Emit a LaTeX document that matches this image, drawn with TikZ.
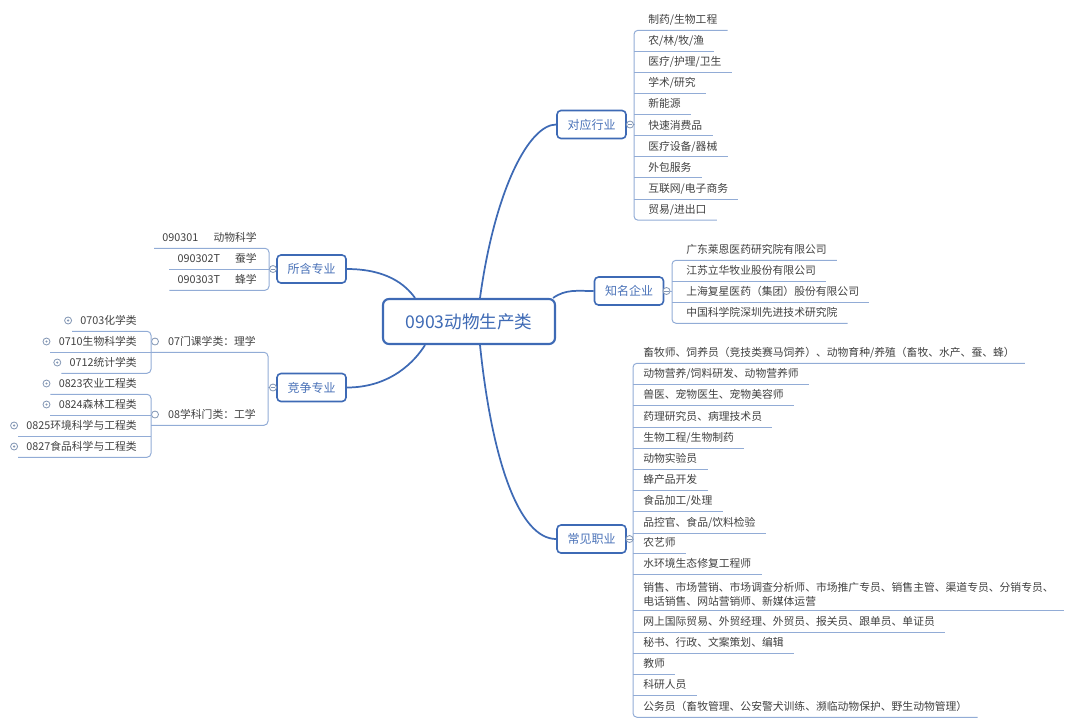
\documentclass[tikz,border=0pt]{standalone}
\usepackage{fontspec}
\setmainfont{Noto Sans CJK SC}
\usepackage{tikz}
\usetikzlibrary{calc}
\definecolor{trunkblue}{RGB}{62,106,181}
\definecolor{boxtext}{RGB}{74,114,184}
\definecolor{leafline}{RGB}{146,172,214}
\definecolor{leaftext}{RGB}{64,64,64}
\definecolor{knobgray}{RGB}{130,150,180}

\begin{document}
\begin{tikzpicture}[x=0.75pt,y=-0.75pt,
          root/.style={draw=trunkblue,line width=1.6pt,rounded corners=4.5pt,%
            fill=white,text=trunkblue,font=\fontsize{13.2pt}{15pt}\selectfont,%
            minimum width=129pt,minimum height=33.75pt,inner sep=0pt},
          branch/.style={draw=trunkblue,line width=1.2pt,rounded corners=3pt,%
            fill=white,text=boxtext,font=\fontsize{9pt}{11pt}\selectfont,%
            minimum width=51.75pt,minimum height=21pt,inner sep=0pt},
          leaf/.style={text=leaftext,font=\fontsize{8.1pt}{10.5pt}\selectfont,%
            inner xsep=6pt,inner ysep=0pt,text height=6.5pt,text depth=0.5pt,%
            minimum height=15.75pt},
          rleaf/.style={leaf,inner xsep=7.5pt,anchor=west},
          trunk/.style={draw=trunkblue,line width=1.3pt},
          uline/.style={draw=leafline,line width=0.75pt},
          bline/.style={uline,rounded corners=3pt},
          knob/.style={circle,draw=knobgray,fill=white,line width=0.6pt,%
            inner sep=0pt,minimum size=5.25pt},
          fold/.style={knob,path picture={\fill[knobgray] %
            (path picture bounding box.center) circle (0.9pt);}},
          shut/.style={knob,path picture={\draw[knobgray,line width=0.5pt] %
            ([xshift=-1.6pt]path picture bounding box.center) -- %
            ([xshift=1.6pt]path picture bounding box.center);}}]
          \useasboundingbox (0,0) rectangle (1080,726);
          \node[root] (main) at (469,321.5) {0903动物生产类};
          \node[branch] (dyhy) at (591.5,124.5) {对应行业};
          \node[branch] (zmqy) at (629,291) {知名企业};
          \node[branch] (cjzy) at (591.5,539) {常见职业};
          \node[branch] (shzy) at (311.5,269) {所含专业};
          \node[branch] (jzzy) at (311.5,387.5) {竞争专业};
          \draw[trunk] ($(main.north)+(11,0)$) .. controls +(15,-109) %
            and +(-27,0) .. (dyhy.west);
          \draw[trunk] ($(main.north east)+(-3,0)$) .. controls +(13,-9) %
            and +(-17,0) .. (zmqy.west);
          \draw[trunk] ($(main.south)+(11,0)$) .. controls +(12,116) %
            and +(-37,0) .. (cjzy.west);
          \draw[trunk] (shzy.east) .. controls +(39,0) %
            and +(-10,-14) .. ($(main.north)+(-54,0)$);
          \draw[trunk] (jzzy.east) .. controls +(44,0) %
            and +(-10,16) .. ($(main.south)+(-44,0)$);
          \coordinate (hyb) at (634,0);
          \coordinate (qyb) at (672,0);
          \coordinate (zyb) at (633,0);
          \coordinate (zxb) at (269,0);
          \coordinate (jzb) at (268,0);
          \coordinate (mlb) at (151,0);
          \coordinate (gxb) at (151,0);

          \node[rleaf] (hy1) at (638,19.5) {制药/生物工程};
          \node[rleaf] (hy2) at (638,40.6) {农/林/牧/渔};
          \node[rleaf] (hy3) at (638,61.7) {医疗/护理/卫生};
          \node[rleaf] (hy4) at (638,82.8) {学术/研究};
          \node[rleaf] (hy5) at (638,103.9) {新能源};
          \node[rleaf] (hy6) at (638,125) {快速消费品};
          \node[rleaf] (hy7) at (638,146.1) {医疗设备/器械};
          \node[rleaf] (hy8) at (638,167.2) {外包服务};
          \node[rleaf] (hy9) at (638,188.3) {互联网/电子商务};
          \node[rleaf] (hy10) at (638,209.4) {贸易/进出口};
          \draw[bline] (hy1.south east) -- (hy1.south -| hyb) -- %
            (hy10.south -| hyb) -- (hy10.south east);
          \draw[uline] (hy2.south -| hyb) -- (hy2.south east);
          \draw[uline] (hy3.south -| hyb) -- (hy3.south east);
          \draw[uline] (hy4.south -| hyb) -- (hy4.south east);
          \draw[uline] (hy5.south -| hyb) -- (hy5.south east);
          \draw[uline] (hy6.south -| hyb) -- (hy6.south east);
          \draw[uline] (hy7.south -| hyb) -- (hy7.south east);
          \draw[uline] (hy8.south -| hyb) -- (hy8.south east);
          \draw[uline] (hy9.south -| hyb) -- (hy9.south east);
          \node[shut] (dyhyk) at (630,124.5) {};
          \draw[uline] (dyhyk.east) -- (dyhyk -| hyb);

          \node[rleaf] (qy1) at (676,249.5) {广东莱恩医药研究院有限公司};
          \node[rleaf] (qy2) at (676,270.5) {江苏立华牧业股份有限公司};
          \node[rleaf] (qy3) at (676,291.5) {上海复星医药（集团）股份有限公司};
          \node[rleaf] (qy4) at (676,312.5) {中国科学院深圳先进技术研究院};
          \draw[bline] (qy1.south east) -- (qy1.south -| qyb) -- %
            (qy4.south -| qyb) -- (qy4.south east);
          \draw[uline] (qy2.south -| qyb) -- (qy2.south east);
          \draw[uline] (qy3.south -| qyb) -- (qy3.south east);
          \node[shut] (zmqyk) at (666.5,291) {};
          \draw[uline] (zmqyk.east) -- (zmqyk -| qyb);

          \node[rleaf] (zy1) at (633,352.5) {畜牧师、饲养员（竞技类赛马饲养）、动物育种/养殖（畜牧、水产、蚕、蜂）};
          \node[rleaf] (zy2) at (633,373.5) {动物营养/饲料研发、动物营养师};
          \node[rleaf] (zy3) at (633,394.5) {兽医、宠物医生、宠物美容师};
          \node[rleaf] (zy4) at (633,416.5) {药理研究员、病理技术员};
          \node[rleaf] (zy5) at (633,437.5) {生物工程/生物制药};
          \node[rleaf] (zy6) at (633,458.5) {动物实验员};
          \node[rleaf] (zy7) at (633,479.5) {蜂产品开发};
          \node[rleaf] (zy8) at (633,500.5) {食品加工/处理};
          \node[rleaf] (zy9) at (633,522.5) {品控官、食品/饮料检验};
          \node[rleaf] (zy10) at (633,542.5) {农艺师};
          \node[rleaf] (zy11) at (633,563.5) {水环境生态修复工程师};
          \node[rleaf,text height={},text depth={},align=left,%
            minimum height=24pt] (zy12) at (633,594) %
            {销售、市场营销、市场调查分析师、市场推广专员、销售主管、渠道专员、分销专员、\\电话销售、网站营销师、新媒体运营};
          \node[rleaf] (zy13) at (633,621.5) {网上国际贸易、外贸经理、外贸员、报关员、跟单员、单证员};
          \node[rleaf] (zy14) at (633,642.5) {秘书、行政、文案策划、编辑};
          \node[rleaf] (zy15) at (633,663.5) {教师};
          \node[rleaf] (zy16) at (633,684.5) {科研人员};
          \node[rleaf] (zy17) at (633,706.5) {公务员（畜牧管理、公安警犬训练、濒临动物保护、野生动物管理）};
          \draw[bline] (zy1.south east) -- (zy1.south -| zyb) -- %
            (zy17.south -| zyb) -- (zy17.south east);
          \draw[uline] (zy2.south -| zyb) -- (zy2.south east);
          \draw[uline] (zy3.south -| zyb) -- (zy3.south east);
          \draw[uline] (zy4.south -| zyb) -- (zy4.south east);
          \draw[uline] (zy5.south -| zyb) -- (zy5.south east);
          \draw[uline] (zy6.south -| zyb) -- (zy6.south east);
          \draw[uline] (zy7.south -| zyb) -- (zy7.south east);
          \draw[uline] (zy8.south -| zyb) -- (zy8.south east);
          \draw[uline] (zy9.south -| zyb) -- (zy9.south east);
          \draw[uline] (zy10.south -| zyb) -- (zy10.south east);
          \draw[uline] (zy11.south -| zyb) -- (zy11.south east);
          \draw[uline] (zy12.south -| zyb) -- (zy12.south east);
          \draw[uline] (zy13.south -| zyb) -- (zy13.south east);
          \draw[uline] (zy14.south -| zyb) -- (zy14.south east);
          \draw[uline] (zy15.south -| zyb) -- (zy15.south east);
          \draw[uline] (zy16.south -| zyb) -- (zy16.south east);
          \node[shut] (cjzyk) at (629.5,539) {};
          \draw[uline] (cjzyk.east) -- (cjzyk -| zyb);

          \node[leaf,anchor=east] (zx1) at (265,237.5) {090301\hspace{1.4em}动物科学};
          \node[leaf,anchor=east] (zx2) at (265,258.5) {090302T\hspace{1.4em}蚕学};
          \node[leaf,anchor=east] (zx3) at (265,279.5) {090303T\hspace{1.4em}蜂学};
          \draw[bline] (zx1.south west) -- (zx1.south -| zxb) -- %
            (zx3.south -| zxb) -- (zx3.south west);
          \draw[uline] (zx2.south west) -- (zx2.south -| zxb);
          \node[shut] (shzyk) at (273,269) {};
          \draw[uline] (shzyk.west) -- (shzyk -| zxb);

          \node[leaf,anchor=east] (ml) at (264,341.5) {07门课学类：理学};
          \node[leaf,anchor=east] (gx) at (264,414.5) {08学科门类：工学};
          \draw[bline] (ml.south -| mlb) -- (ml.south -| jzb) -- %
            (gx.south -| jzb) -- (gx.south -| gxb);
          \node[shut] (jzzyk) at (273,387.5) {};
          \draw[uline] (jzzyk.west) -- (jzzyk -| jzb);
          \node[knob] (mlk) at (155,341.5) {};
          \node[knob] (gxk) at (155,414.5) {};

          \node[leaf,anchor=east] (ml1) at (145,320.5) {0703化学类};
          \node[leaf,anchor=east] (ml2) at (145,341.5) {0710生物科学类};
          \node[leaf,anchor=east] (ml3) at (145,362.5) {0712统计学类};
          \draw[bline] (ml1.south west) -- (ml1.south -| mlb) -- %
            (ml3.south -| mlb) -- (ml3.south west);
          \draw[uline] (ml2.south west) -- (ml2.south -| mlb);
          \node[fold] (ml1k) at ($(ml1.west)+(-4,0)$) {};
          \node[fold] (ml2k) at ($(ml2.west)+(-4,0)$) {};
          \node[fold] (ml3k) at ($(ml3.west)+(-4,0)$) {};

          \node[leaf,anchor=east] (gx1) at (145,383.5) {0823农业工程类};
          \node[leaf,anchor=east] (gx2) at (145,404.5) {0824森林工程类};
          \node[leaf,anchor=east] (gx3) at (145,425.5) {0825环境科学与工程类};
          \node[leaf,anchor=east] (gx4) at (145,446.5) {0827食品科学与工程类};
          \draw[bline] (gx1.south west) -- (gx1.south -| gxb) -- %
            (gx4.south -| gxb) -- (gx4.south west);
          \draw[uline] (gx2.south west) -- (gx2.south -| gxb);
          \draw[uline] (gx3.south west) -- (gx3.south -| gxb);
          \node[fold] (gx1k) at ($(gx1.west)+(-4,0)$) {};
          \node[fold] (gx2k) at ($(gx2.west)+(-4,0)$) {};
          \node[fold] (gx3k) at ($(gx3.west)+(-4,0)$) {};
          \node[fold] (gx4k) at ($(gx4.west)+(-4,0)$) {};
        \end{tikzpicture}
\end{document}
